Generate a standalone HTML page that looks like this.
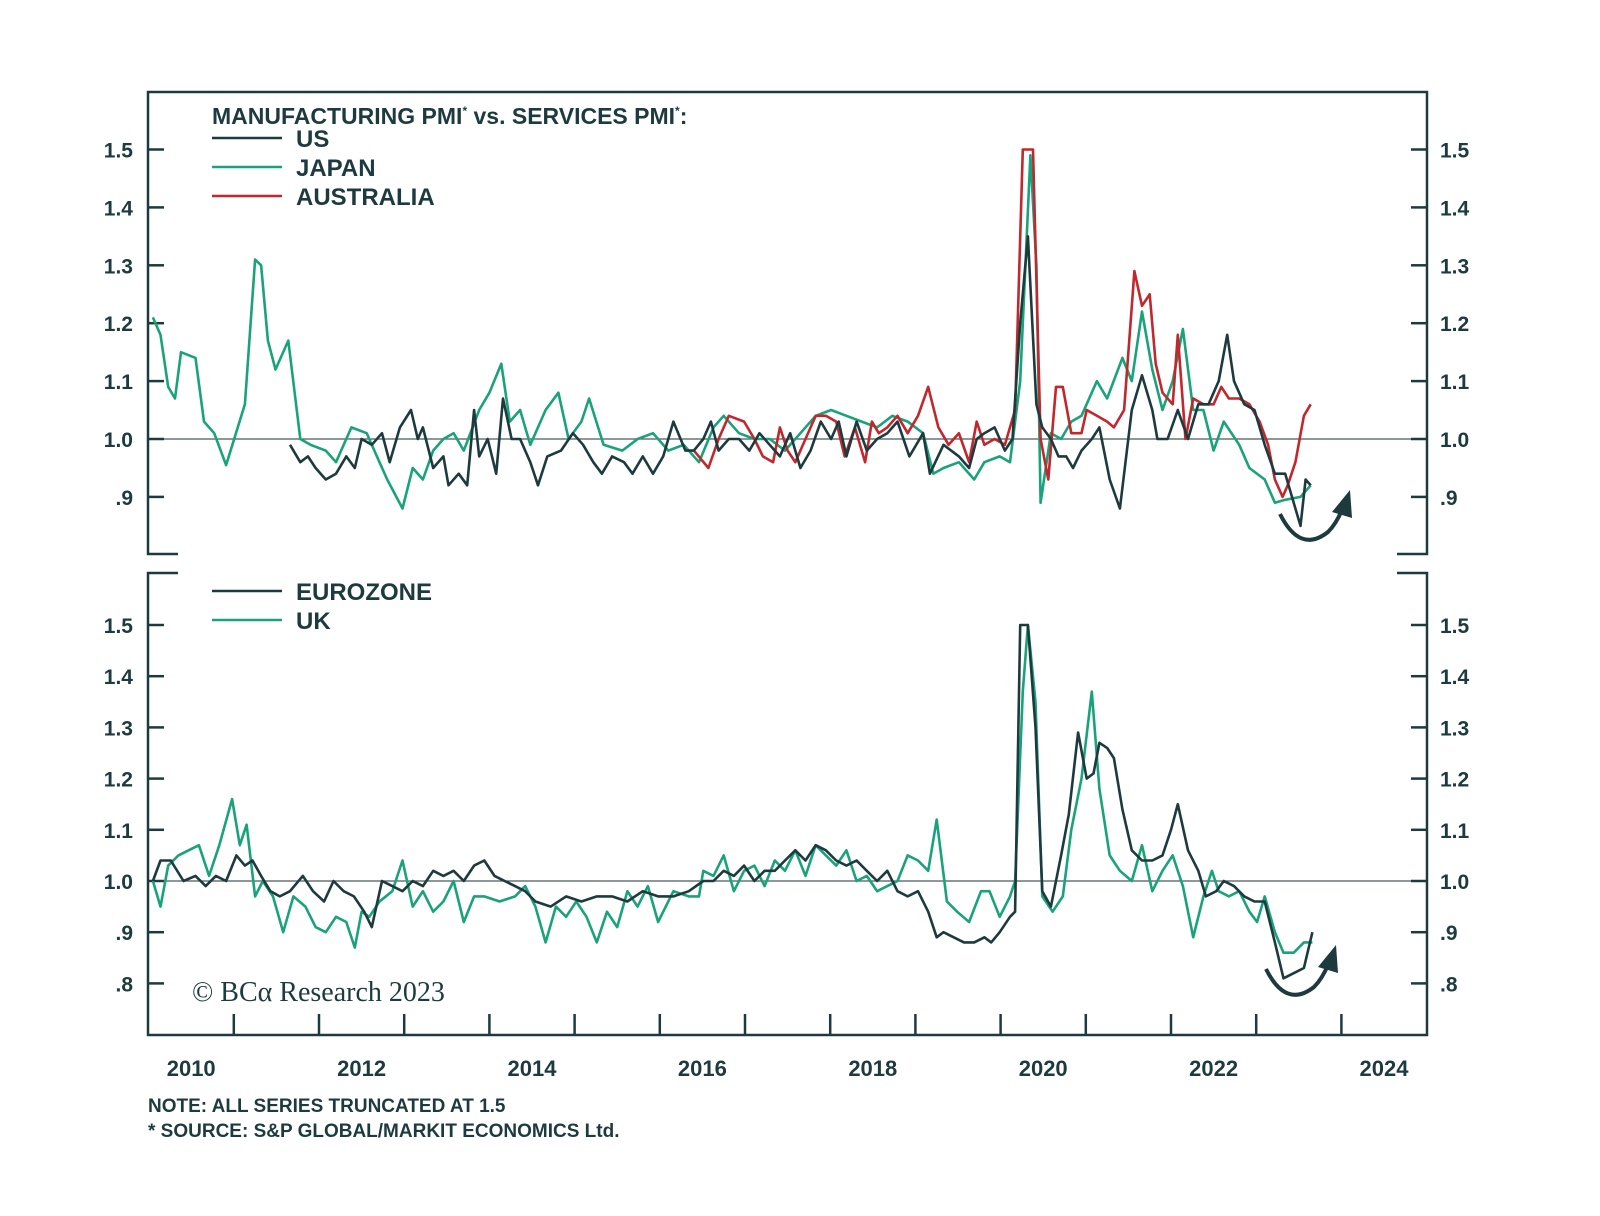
<!DOCTYPE html>
<html><head><meta charset="utf-8"><style>
body{margin:0;background:#fff;}
svg text{font-family:"Liberation Sans",sans-serif;fill:#1d3b3f;}
</style></head><body>
<svg id="chart" width="1600" height="1211" viewBox="0 0 1600 1211" xmlns="http://www.w3.org/2000/svg">
<g id="frame"></g>
<g id="marks"></g>
<g id="labels"></g>
</svg>
<script>
// ---- Data ----
const yearTicks = [2010,2012,2014,2016,2018,2020,2022,2024];
const topTickLabels = ["1.5","1.4","1.3","1.2","1.1","1.0",".9"];
const topTickValues = [1.5,1.4,1.3,1.2,1.1,1.0,0.9];
const botTickLabels = ["1.5","1.4","1.3","1.2","1.1","1.0",".9",".8"];
const botTickValues = [1.5,1.4,1.3,1.2,1.1,1.0,0.9,0.8];

const japanT = [2010.05,2010.14,2010.23,2010.31,2010.38,2010.55,2010.65,2010.77,2010.91,2011.13,2011.25,2011.32,2011.40,2011.49,2011.64,2011.78,2011.90,2012.08,2012.20,2012.38,2012.56,2012.68,2012.80,2012.98,2013.10,2013.22,2013.34,2013.46,2013.58,2013.70,2013.88,2014.00,2014.14,2014.24,2014.36,2014.48,2014.66,2014.81,2014.93,2015.08,2015.17,2015.34,2015.56,2015.74,2015.92,2016.10,2016.28,2016.46,2016.63,2016.75,2016.93,2017.11,2017.29,2017.47,2017.65,2017.83,2018.01,2018.19,2018.37,2018.55,2018.73,2018.91,2019.09,2019.21,2019.33,2019.51,2019.69,2019.81,2019.99,2020.11,2020.23,2020.35,2020.42,2020.47,2020.59,2020.71,2020.83,2020.95,2021.13,2021.25,2021.43,2021.54,2021.66,2021.78,2021.90,2022.02,2022.14,2022.26,2022.38,2022.50,2022.62,2022.80,2022.92,2023.10,2023.22,2023.34,2023.52,2023.64];
const japanV = [1.21,1.18,1.09,1.07,1.15,1.14,1.03,1.01,0.955,1.06,1.31,1.30,1.17,1.12,1.17,1.0,0.99,0.98,0.96,1.02,1.01,0.97,0.93,0.88,0.95,0.93,0.98,1.0,1.01,0.98,1.05,1.08,1.13,1.03,1.05,0.99,1.05,1.08,1.0,1.03,1.07,0.99,0.98,1.0,1.01,0.98,0.99,0.96,1.02,1.04,1.01,1.0,1.0,0.98,1.01,1.04,1.05,1.04,1.03,1.02,1.04,1.03,1.01,0.94,0.95,0.96,0.93,0.96,0.97,0.96,1.1,1.49,1.3,0.89,1.01,1.0,1.03,1.04,1.1,1.07,1.14,1.1,1.22,1.12,1.05,1.10,1.19,1.05,1.05,0.98,1.03,0.99,0.95,0.93,0.89,0.895,0.9,0.92];

const usT = [2011.66,2011.78,2011.87,2011.96,2012.08,2012.20,2012.32,2012.42,2012.50,2012.62,2012.74,2012.83,2012.95,2013.08,2013.16,2013.22,2013.34,2013.46,2013.52,2013.64,2013.74,2013.82,2013.88,2013.98,2014.08,2014.16,2014.26,2014.36,2014.48,2014.57,2014.68,2014.84,2014.98,2015.10,2015.22,2015.32,2015.44,2015.58,2015.68,2015.80,2015.92,2016.04,2016.16,2016.30,2016.40,2016.51,2016.60,2016.69,2016.81,2016.93,2017.05,2017.17,2017.29,2017.41,2017.53,2017.65,2017.77,2017.89,2018.01,2018.10,2018.19,2018.31,2018.43,2018.55,2018.67,2018.79,2018.93,2019.09,2019.17,2019.33,2019.51,2019.63,2019.72,2019.81,2019.93,2020.05,2020.14,2020.23,2020.32,2020.42,2020.49,2020.59,2020.68,2020.77,2020.85,2020.95,2021.07,2021.16,2021.28,2021.40,2021.54,2021.66,2021.78,2021.84,2021.96,2022.08,2022.20,2022.32,2022.44,2022.56,2022.66,2022.74,2022.86,2022.98,2023.10,2023.22,2023.34,2023.46,2023.52,2023.58,2023.64];
const usV = [0.99,0.96,0.97,0.95,0.93,0.94,0.97,0.95,1.0,0.99,1.01,0.96,1.02,1.05,1.0,1.02,0.95,0.97,0.92,0.94,0.92,1.05,0.97,1.0,0.94,1.07,1.0,1.0,0.96,0.92,0.97,0.98,1.01,0.99,0.96,0.94,0.97,0.96,0.94,0.97,0.94,0.97,1.03,0.98,0.98,1.0,1.03,0.98,1.0,1.0,0.98,1.01,0.99,0.97,1.01,0.95,0.98,1.03,1.0,1.03,0.97,1.03,0.98,1.0,1.01,1.03,0.97,1.01,0.94,0.99,0.97,0.95,1.0,1.01,1.02,0.98,1.0,1.2,1.35,1.06,1.02,1.0,0.97,0.97,0.95,0.98,1.0,1.02,0.93,0.88,1.05,1.11,1.05,1.0,1.0,1.05,1.0,1.06,1.06,1.1,1.18,1.1,1.06,1.05,0.99,0.94,0.94,0.88,0.85,0.93,0.92];

const ausT = [2016.40,2016.57,2016.69,2016.81,2016.99,2017.11,2017.21,2017.33,2017.41,2017.50,2017.59,2017.71,2017.83,2017.95,2018.07,2018.17,2018.29,2018.41,2018.49,2018.57,2018.67,2018.79,2018.91,2019.03,2019.15,2019.27,2019.39,2019.51,2019.63,2019.72,2019.81,2019.93,2020.05,2020.17,2020.26,2020.38,2020.47,2020.56,2020.65,2020.73,2020.83,2020.95,2021.01,2021.13,2021.25,2021.33,2021.45,2021.57,2021.66,2021.75,2021.82,2021.90,2022.02,2022.08,2022.17,2022.26,2022.38,2022.50,2022.59,2022.68,2022.80,2022.92,2023.04,2023.14,2023.22,2023.31,2023.37,2023.46,2023.56,2023.64];
const ausV = [0.98,0.95,1.0,1.04,1.03,1.0,0.97,0.96,1.02,0.98,0.96,1.0,1.04,1.04,1.03,0.97,1.02,0.96,1.03,1.01,1.02,1.04,1.01,1.04,1.09,1.02,0.99,1.01,0.96,1.03,0.99,1.0,0.99,1.05,1.5,1.5,1.0,0.93,1.09,1.09,1.01,1.01,1.05,1.04,1.03,1.02,1.05,1.29,1.23,1.25,1.13,1.08,1.06,1.18,1.0,1.07,1.06,1.06,1.09,1.07,1.07,1.06,1.03,0.99,0.93,0.9,0.92,0.96,1.04,1.06];

const ezT = [2010.05,2010.14,2010.26,2010.41,2010.55,2010.67,2010.79,2010.91,2011.03,2011.13,2011.22,2011.32,2011.43,2011.54,2011.66,2011.81,2011.93,2012.06,2012.17,2012.29,2012.41,2012.53,2012.62,2012.74,2012.86,2012.98,2013.10,2013.22,2013.34,2013.46,2013.58,2013.70,2013.82,2013.94,2014.06,2014.18,2014.30,2014.42,2014.54,2014.72,2014.90,2015.08,2015.26,2015.44,2015.62,2015.80,2015.98,2016.16,2016.34,2016.51,2016.63,2016.75,2016.87,2016.99,2017.11,2017.23,2017.35,2017.47,2017.59,2017.71,2017.83,2017.95,2018.07,2018.19,2018.31,2018.43,2018.55,2018.67,2018.79,2018.91,2019.03,2019.15,2019.25,2019.33,2019.45,2019.57,2019.69,2019.81,2019.89,2019.99,2020.11,2020.17,2020.23,2020.32,2020.41,2020.49,2020.59,2020.71,2020.80,2020.91,2021.01,2021.09,2021.16,2021.25,2021.33,2021.43,2021.54,2021.66,2021.78,2021.90,2022.00,2022.08,2022.20,2022.32,2022.41,2022.53,2022.62,2022.74,2022.86,2022.98,2023.10,2023.22,2023.32,2023.44,2023.56,2023.66];
const ezV = [1.0,1.04,1.04,1.0,1.01,0.99,1.01,1.0,1.05,1.03,1.04,1.01,0.98,0.97,0.98,1.01,0.98,0.96,1.0,0.98,0.97,0.94,0.91,1.0,0.99,0.98,1.0,0.99,1.02,1.01,1.02,1.0,1.03,1.04,1.01,1.0,0.99,0.98,0.96,0.95,0.97,0.96,0.97,0.97,0.96,0.98,0.97,0.97,0.98,1.0,1.0,1.02,1.01,1.03,1.0,1.02,1.02,1.04,1.06,1.04,1.07,1.06,1.04,1.03,1.04,1.02,1.0,1.02,0.98,0.97,0.98,0.94,0.89,0.9,0.89,0.88,0.88,0.89,0.88,0.9,0.93,0.94,1.5,1.5,1.3,0.98,0.95,1.05,1.13,1.29,1.2,1.21,1.27,1.26,1.24,1.14,1.06,1.04,1.04,1.05,1.1,1.15,1.06,1.02,0.97,0.98,1.0,0.99,0.97,0.96,0.96,0.88,0.81,0.82,0.83,0.9];

const ukT = [2010.05,2010.14,2010.23,2010.35,2010.47,2010.59,2010.71,2010.83,2010.98,2011.07,2011.15,2011.25,2011.34,2011.46,2011.58,2011.70,2011.84,2011.96,2012.08,2012.20,2012.32,2012.42,2012.50,2012.59,2012.71,2012.86,2012.98,2013.10,2013.22,2013.34,2013.46,2013.58,2013.70,2013.82,2013.94,2014.12,2014.30,2014.42,2014.54,2014.66,2014.78,2014.90,2015.02,2015.14,2015.26,2015.38,2015.50,2015.62,2015.74,2015.86,2015.98,2016.16,2016.34,2016.46,2016.51,2016.63,2016.75,2016.87,2016.99,2017.11,2017.23,2017.35,2017.47,2017.59,2017.71,2017.83,2017.95,2018.07,2018.19,2018.31,2018.43,2018.55,2018.67,2018.79,2018.91,2019.03,2019.15,2019.25,2019.37,2019.49,2019.63,2019.77,2019.87,2019.99,2020.11,2020.17,2020.26,2020.32,2020.41,2020.49,2020.61,2020.73,2020.83,2020.95,2021.07,2021.16,2021.28,2021.40,2021.54,2021.66,2021.78,2021.90,2022.02,2022.14,2022.26,2022.38,2022.48,2022.56,2022.68,2022.80,2022.92,2023.01,2023.10,2023.22,2023.32,2023.44,2023.56,2023.66];
const ukV = [1.0,0.95,1.03,1.05,1.06,1.07,1.01,1.07,1.16,1.07,1.11,0.97,1.0,0.97,0.9,0.97,0.95,0.91,0.9,0.93,0.92,0.87,0.94,0.93,0.96,0.98,1.04,0.95,0.98,0.94,0.96,1.0,0.92,0.97,0.97,0.96,0.97,0.99,0.95,0.88,0.95,0.93,0.96,0.93,0.88,0.94,0.91,0.98,0.95,0.99,0.92,0.98,0.97,0.97,1.02,1.01,1.05,0.98,1.02,1.03,0.99,1.04,1.02,1.06,1.01,1.07,1.05,1.03,1.06,1.0,1.01,0.98,0.99,1.0,1.05,1.04,1.02,1.12,0.96,0.94,0.92,0.98,0.98,0.93,0.97,1.0,1.37,1.5,1.35,0.97,0.94,0.97,1.1,1.2,1.37,1.18,1.05,1.02,1.0,1.07,0.98,1.02,1.05,0.99,0.89,0.97,1.02,0.98,0.97,0.98,0.94,0.92,0.97,0.9,0.86,0.86,0.88,0.88];

// ---- Scales ----
const DARK="#1d3b3f", GREEN="#1aa37a", RED="#c0282d";
const L=148, R=1427;
const xS = t => 319 + (t-2012)*85.2;
const yTop = v => 439 - (Math.min(v,1.5)-1)*579;
const yBot = v => 881 - (Math.min(v,1.5)-1)*512;
const NS="http://www.w3.org/2000/svg";
function mk(tag, attrs, parent){const e=document.createElementNS(NS,tag);for(const k in attrs)e.setAttribute(k,attrs[k]);parent.appendChild(e);return e;}
const frame=document.getElementById('frame'), marks=document.getElementById('marks'), labels=document.getElementById('labels');

// frames
const fTop=mk('path',{d:`M${L+30},554 H${L} V92 H${R} V554 H${R-30}`,fill:'none',stroke:DARK,'stroke-width':2.5},frame);


const fBot=mk('path',{d:`M${L+30},573 H${L} V1035 H${R} V573 H${R-30}`,fill:'none',stroke:DARK,'stroke-width':2.5},frame);



// reference lines
const r1=mk('line',{x1:L,x2:R,y1:yTop(1),y2:yTop(1),stroke:'#4a5a5c','stroke-width':1.2},frame);


const r2=mk('line',{x1:L,x2:R,y1:yBot(1),y2:yBot(1),stroke:'#4a5a5c','stroke-width':1.2},frame);



// y ticks
function yTicks(vals, labs, ys, panel){
  vals.forEach((v,i)=>{
    const y=ys(v);
    mk('line',{x1:L,x2:L+16,y1:y,y2:y,stroke:DARK,'stroke-width':2.5},frame);
    mk('line',{x1:R-16,x2:R,y1:y,y2:y,stroke:DARK,'stroke-width':2.5},frame);
    const a=mk('text',{x:133,y:y+8,'text-anchor':'end','font-size':21,'font-weight':'bold'},labels);
    a.textContent=labs[i];
    
    
    const b=mk('text',{x:1440,y:y+8,'text-anchor':'start','font-size':21,'font-weight':'bold'},labels);
    b.textContent=labs[i];
    
    
  });
}
yTicks(topTickValues, topTickLabels, yTop, 'top');
yTicks(botTickValues, botTickLabels, yBot, 'bottom');

// x ticks
for(let yr=2011; yr<=2024; yr++){
  mk('line',{x1:xS(yr),x2:xS(yr),y1:1035,y2:1014,stroke:DARK,'stroke-width':2.5},frame);
}
yearTicks.forEach(yr=>{
  const t=mk('text',{x:xS(yr+0.5),y:1076,'text-anchor':'middle','font-size':22,'font-weight':'bold'},labels);
  t.textContent=String(yr);
  
  
});

// series
function line(ts, vs, ys, color, name){
  const d=ts.map((t,i)=>(i?'L':'M')+xS(t).toFixed(1)+','+ys(vs[i]).toFixed(1)).join(' ');
  const p=mk('path',{d:d,fill:'none',stroke:color,'stroke-width':2.6,'stroke-linejoin':'round'},marks);
  
  
}
line(japanT, japanV, yTop, GREEN, 'japan-line');
line(ausT, ausV, yTop, RED, 'australia-line');
line(usT, usV, yTop, DARK, 'us-line');
line(ukT, ukV, yBot, GREEN, 'uk-line');
line(ezT, ezV, yBot, DARK, 'eurozone-line');

// legends
function legend(y, color, text, name){
  mk('line',{x1:212,x2:282,y1:y,y2:y,stroke:color,'stroke-width':2.6},labels);
  const t=mk('text',{x:296,y:y+9,'font-size':24,'font-weight':'bold'},labels);
  t.textContent=text;
  
  
}
const title=mk('text',{x:212,y:124,'font-size':23,'font-weight':'bold'},labels);
title.innerHTML='MANUFACTURING PMI<tspan font-size="12" dy="-9">*</tspan><tspan dy="9"> vs. SERVICES PMI</tspan><tspan font-size="12" dy="-9">*</tspan><tspan dy="9">:</tspan>';


legend(138, DARK, 'US', 'legend-entry-us');
legend(167, GREEN, 'JAPAN', 'legend-entry-japan');
legend(196, RED, 'AUSTRALIA', 'legend-entry-australia');
legend(591, DARK, 'EUROZONE', 'legend-entry-eurozone');
legend(620, GREEN, 'UK', 'legend-entry-uk');

// arrows
function arrow(cx, cy, name){
  const g=mk('g',{},marks);
  
  
  mk('path',{d:`M${cx-30},${cy-18} Q${cx-10},${cy+22} ${cx+18},${cy} Q${cx+26},${cy-8} ${cx+32},${cy-22}`,fill:'none',stroke:DARK,'stroke-width':4},g);
  mk('polygon',{points:`${cx+22},${cy-20} ${cx+42},${cy-14} ${cx+40},${cy-42}`,fill:DARK},g);
}
arrow(1310, 532, 'top-trend-arrow');
arrow(1296, 987, 'bottom-trend-arrow');

// text
const cp=mk('text',{x:192,y:1001,'font-size':28,style:'font-family:"Liberation Serif",serif'},labels);
cp.textContent='© BCα Research 2023';


const n1=mk('text',{x:148,y:1112,'font-size':19,'font-weight':'bold'},labels);
n1.textContent='NOTE: ALL SERIES TRUNCATED AT 1.5';


const n2=mk('text',{x:148,y:1137,'font-size':19,'font-weight':'bold'},labels);
n2.textContent='* SOURCE: S&P GLOBAL/MARKIT ECONOMICS Ltd.';


</script>
</body></html>
